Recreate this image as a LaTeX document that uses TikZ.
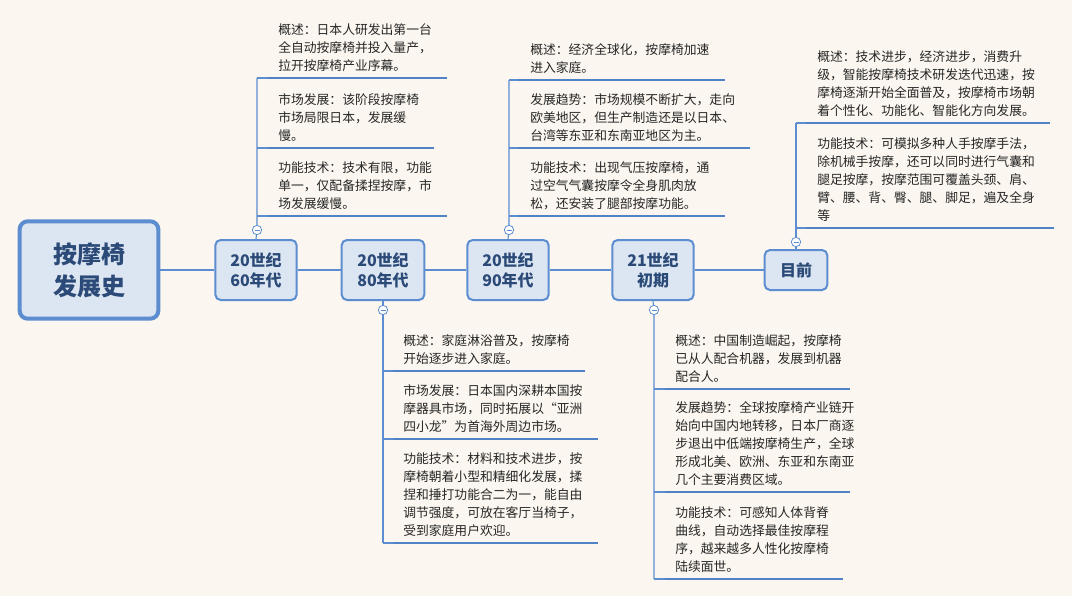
\documentclass[tikz,border=0pt]{standalone}
\usepackage{fontspec}
\usetikzlibrary{calc}
\setmainfont{Noto Sans CJK SC}
\definecolor{bg}{HTML}{FBF7F0}
\definecolor{ln}{HTML}{5B8DD0}
\definecolor{ul}{HTML}{4F82C6}
\definecolor{nf}{HTML}{DCE6F2}
\definecolor{tx}{HTML}{2B4A78}
\begin{document}
\begin{tikzpicture}[x=0.75pt,y=-0.75pt,
  era/.style={draw=ln,line width=1.5pt,fill=nf,rounded corners=4pt,align=center,font=\fontsize{12}{15}\selectfont\bfseries,text=tx,minimum height=45pt},
  desc/.style={anchor=south west,align=left,inner sep=0pt,font=\fontsize{9.6}{13.5}\selectfont,text=black!85},
  link/.style={draw=ln,line width=0.8pt},
  under/.style={draw=ul,line width=2.2pt},
  fold/.style={circle,draw=ln,fill=white,inner sep=0pt,minimum size=7pt,line width=0.6pt}]
\fill[bg] (0,0) rectangle (1072,596);
\useasboundingbox (0,0) rectangle (1072,596);
% main
\node[draw=ln,line width=3pt,fill=nf,rounded corners=6pt,minimum width=104pt,minimum height=73pt,align=center,font=\fontsize{18}{24}\selectfont\bfseries,text=tx] (root) at (89,270) {按摩椅\\发展史};
\node[era,minimum width=61pt] (e1) at (256,270) {20世纪\\60年代};
\node[era,minimum width=62pt] (e2) at (383,270) {20世纪\\80年代};
\node[era,minimum width=61pt] (e3) at (508,270) {20世纪\\90年代};
\node[era,minimum width=61pt] (e4) at (653,270) {21世纪\\初期};
\node[era,minimum width=47pt,minimum height=30pt] (e5) at (796,270) {目前};
\draw[link] (root.east) -- (e1.west);
\draw[link] (e1.east) -- (e2.west);
\draw[link] (e2.east) -- (e3.west);
\draw[link] (e3.east) -- (e4.west);
\draw[link] (e4.east) -- (e5.west);
% fold markers
\coordinate (f1) at (257,230);
\coordinate (f3) at (509,230);
\coordinate (f5) at (796,242);
\coordinate (f2) at (383,310);
\coordinate (f4) at (654,310);
\draw[link] (e1.north) -- (f1) -- (257,78);
\draw[link] (e3.north) -- (f3) -- (509,80);
\draw[link] (e5.north) -- (f5) -- (796,123);
\draw[link] (e2.south) -- (f2) -- (383,543);
\draw[link] (e4.south) -- (f4) -- (654,579);
\foreach \f in {f1,f2,f3,f4,f5}{\node[fold] at (\f) {}; \draw[ln,line width=0.6pt] ($(\f)+(-2.5,0)$) -- ($(\f)+(2.5,0)$);}
% 60s
\draw[link] (257,78) -- (268,78); \draw[under] (268,78) -- (447,78);
\draw[link] (257,148) -- (268,148); \draw[under] (268,148) -- (434,148);
\draw[link] (257,216) -- (268,216); \draw[under] (268,216) -- (447,216);
\node[desc] (t11) at (278,72) {概述：日本人研发出第一台\\全自动按摩椅并投入量产，\\拉开按摩椅产业序幕。};
\node[desc] (t12) at (278,142) {市场发展：该阶段按摩椅\\市场局限日本，发展缓\\慢。};
\node[desc] (t13) at (278,210) {功能技术：技术有限，功能\\单一，仅配备揉捏按摩，市\\场发展缓慢。};
% 90s
\draw[link] (509,80) -- (518,80); \draw[under] (518,80) -- (725,80);
\draw[link] (509,148) -- (518,148); \draw[under] (518,148) -- (750,148);
\draw[link] (509,216) -- (518,216); \draw[under] (518,216) -- (725,216);
\node[desc] (t31) at (530,74) {概述：经济全球化，按摩椅加速\\进入家庭。};
\node[desc] (t32) at (530,142) {发展趋势：市场规模不断扩大，走向\\欧美地区，但生产制造还是以日本、\\台湾等东亚和东南亚地区为主。};
\node[desc] (t33) at (530,210) {功能技术：出现气压按摩椅，通\\过空气气囊按摩令全身肌肉放\\松，还安装了腿部按摩功能。};
% now
\draw[link] (796,123) -- (806,123); \draw[under] (806,123) -- (1050,123);
\draw[link] (796,228) -- (806,228); \draw[under] (806,228) -- (1054,228);
\node[desc] (t51) at (817,117) {概述：技术进步，经济进步，消费升\\级，智能按摩椅技术研发迭代迅速，按\\摩椅逐渐开始全面普及，按摩椅市场朝\\着个性化、功能化、智能化方向发展。};
\node[desc] (t52) at (817,222) {功能技术：可模拟多种人手按摩手法，\\除机械手按摩，还可以同时进行气囊和\\腿足按摩，按摩范围可覆盖头颈、肩、\\臂、腰、背、臀、腿、脚足，遍及全身\\等};
% 80s
\draw[link] (383,371) -- (393,371); \draw[under] (393,371) -- (585,371);
\draw[link] (383,439) -- (393,439); \draw[under] (393,439) -- (598,439);
\draw[link] (383,543) -- (393,543); \draw[under] (393,543) -- (598,543);
\node[desc] (t21) at (403,365) {概述：家庭淋浴普及，按摩椅\\开始逐步进入家庭。};
\node[desc] (t22) at (403,433) {市场发展：日本国内深耕本国按\\摩器具市场，同时拓展以“亚洲\\四小龙”为首海外周边市场。};
\node[desc] (t23) at (403,537) {功能技术：材料和技术进步，按\\摩椅朝着小型和精细化发展，揉\\捏和捶打功能合二为一，能自由\\调节强度，可放在客厅当椅子，\\受到家庭用户欢迎。};
% 21st
\draw[link] (654,389) -- (665,389); \draw[under] (665,389) -- (850,389);
\draw[link] (654,492) -- (665,492); \draw[under] (665,492) -- (850,492);
\draw[link] (654,579) -- (665,579); \draw[under] (665,579) -- (843,579);
\node[desc] (t41) at (675,383) {概述：中国制造崛起，按摩椅\\已从人配合机器，发展到机器\\配合人。};
\node[desc] (t42) at (675,486) {发展趋势：全球按摩椅产业链开\\始向中国内地转移，日本厂商逐\\步退出中低端按摩椅生产，全球\\形成北美、欧洲、东亚和东南亚\\几个主要消费区域。};
\node[desc] (t43) at (675,573) {功能技术：可感知人体背脊\\曲线，自动选择最佳按摩程\\序，越来越多人性化按摩椅\\陆续面世。};
\end{tikzpicture}
\end{document}
